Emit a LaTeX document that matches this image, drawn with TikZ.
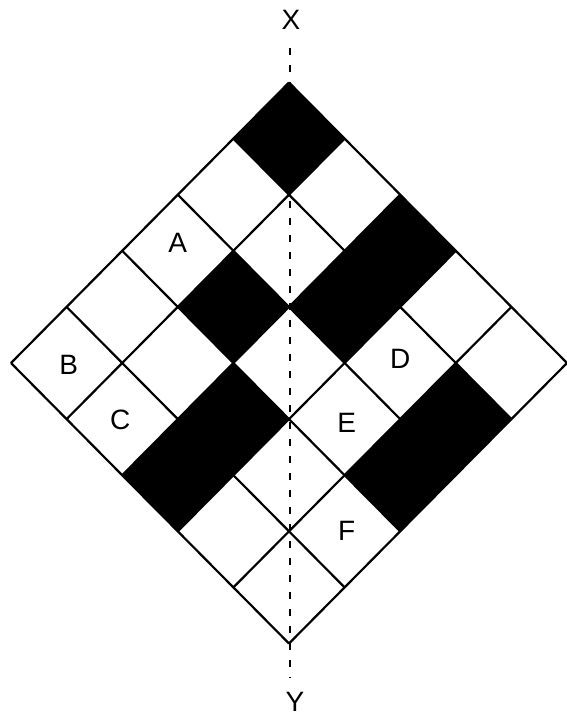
\documentclass[tikz,border=0pt]{standalone}
\usepackage{fontspec}
\setmainfont{Liberation Sans}
\begin{document}
\begin{tikzpicture}[x=1pt,y=-1pt,line join=round]
\tikzset{
  gridline/.style={line width=2.2pt},
  lab/.style={font=\fontsize{28}{28}\selectfont, inner sep=0pt},
  axis/.style={line width=2.6pt, dash pattern=on 7pt off 10pt}
}
\useasboundingbox (0,0) rectangle (566,716);
\def\cx{289}\def\cy{82.5}\def\sx{55.6}\def\sy{56.1}
\foreach \a in {0,...,5}{
  \foreach \b in {0,...,5}{
    \coordinate (p\a\b) at ({\cx+(\b-\a)*\sx},{\cy+(\a+\b)*\sy});
  }
}
% black cells
\foreach \a/\b in {0/0,2/1,0/2,1/2,3/2,4/2,1/4,2/4}{
  \pgfmathtruncatemacro\aa{\a+1}
  \pgfmathtruncatemacro\bb{\b+1}
  \fill (p\a\b) -- (p\aa\b) -- (p\aa\bb) -- (p\a\bb) -- cycle;
}
% grid lines
\foreach \k in {0,...,5}{
  \draw[gridline] (p\k0) -- (p\k5);
  \draw[gridline] (p0\k) -- (p5\k);
}
% axis
\coordinate (xtop) at (290,48);
\coordinate (ybot) at (290,678);
\draw[axis] (xtop) -- (ybot);
\node[lab] (X) at (291,20) {X};
\node[lab] (Y) at (295,702) {Y};
% labels
\node[lab] (A) at ({\cx-2*\sx},{\cy+3*\sy-8}) {A};
\node[lab] (B) at ({\cx-4*\sx+2},{\cy+5*\sy+2}) {B};
\node[lab] (C) at ({\cx-3*\sx-2},{\cy+6*\sy+1}) {C};
\node[lab] (D) at ({\cx+2*\sx},{\cy+5*\sy-4}) {D};
\node[lab] (E) at ({\cx+1*\sx+2},{\cy+6*\sy+4}) {E};
\node[lab] (F) at ({\cx+1*\sx+2},{\cy+8*\sy}) {F};
\end{tikzpicture}
\end{document}
